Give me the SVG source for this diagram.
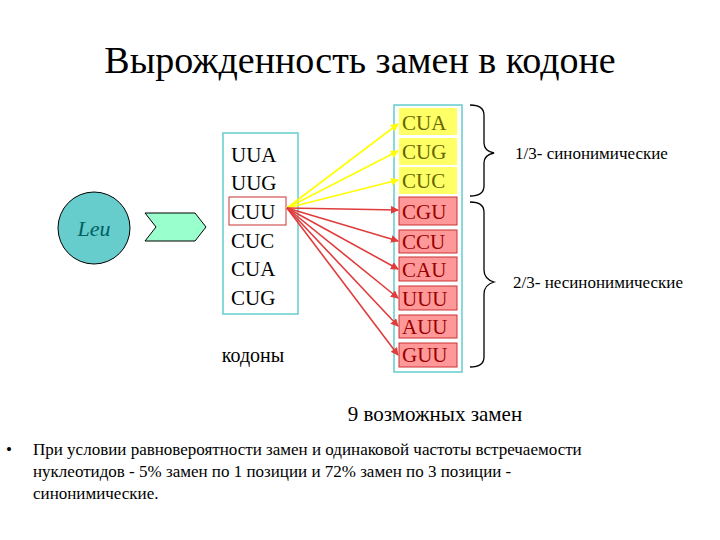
<svg xmlns="http://www.w3.org/2000/svg" width="720" height="540" viewBox="0 0 720 540" font-family="'Liberation Serif','Times New Roman','DejaVu Serif',serif">
<style>
text{font-family:'Liberation Serif','Times New Roman','DejaVu Serif',serif;fill:#000}
.cod{font-size:21px}
.y{fill:#ffff66}
.r{fill:#ff9999;stroke:#cc3333;stroke-width:1}
text.ty{fill:#666600}
text.tr{fill:#990000}
.ly{stroke:#ffff00;stroke-width:1.6;fill:none}
.lr{stroke:#e03c3c;stroke-width:1.6;fill:none}
.br{fill:none;stroke:#000;stroke-width:1.3}
</style>
<defs>
<marker id="ay" markerWidth="8" markerHeight="8" refX="7" refY="4" orient="auto" markerUnits="userSpaceOnUse"><path d="M0,0L8,4L0,8z" fill="#ffff00"/></marker>
<marker id="ar" markerWidth="8" markerHeight="8" refX="7" refY="4" orient="auto" markerUnits="userSpaceOnUse"><path d="M0,0L8,4L0,8z" fill="#e03c3c"/></marker>
</defs>
<rect width="720" height="540" fill="#fff"/>
<text x="360" y="73" font-size="38" text-anchor="middle">Вырожденность замен в кодоне</text>
<g id="leu"><circle cx="94" cy="228" r="36" fill="#66cccc" stroke="#000"/><text x="94" y="236" font-size="22" font-style="italic" text-anchor="middle" style="fill:#006060">Leu</text></g>
<g id="chevron"><path d="M145,213L195,213L206,227L195,241L145,241L156,227z" fill="#99ffcc" stroke="#000"/></g>
<g id="codons">
<rect x="223" y="133" width="75" height="181" fill="#fff" stroke="#66cccc" stroke-width="1.5"/>
<rect x="229" y="197" width="57" height="28" fill="none" stroke="#cc3333"/>
<text class="cod" x="231" y="162">UUA</text>
<text class="cod" x="231" y="190">UUG</text>
<text class="cod" x="231" y="219">CUU</text>
<text class="cod" x="231" y="248">CUC</text>
<text class="cod" x="231" y="276">CUA</text>
<text class="cod" x="231" y="305">CUG</text>
<text x="253" y="362" font-size="20" text-anchor="middle">кодоны</text>
</g>
<g id="subs">
<rect x="394" y="105" width="68" height="267" fill="#fff" stroke="#66cccc" stroke-width="1.5"/>
<rect class="y" x="399" y="108" width="58" height="27"/>
<rect class="y" x="399" y="138" width="58" height="27"/>
<rect class="y" x="399" y="167" width="58" height="27"/>
<rect class="r" x="399" y="197" width="58" height="28"/>
<rect class="r" x="399" y="230" width="58" height="23"/>
<rect class="r" x="399" y="257" width="58" height="24"/>
<rect class="r" x="399" y="286" width="58" height="24"/>
<rect class="r" x="399" y="315" width="58" height="23"/>
<rect class="r" x="399" y="343" width="58" height="24"/>
<text class="cod ty" x="402" y="130">CUA</text>
<text class="cod ty" x="402" y="159">CUG</text>
<text class="cod ty" x="402" y="188">CUC</text>
<text class="cod tr" x="402" y="219">CGU</text>
<text class="cod tr" x="402" y="249">CCU</text>
<text class="cod tr" x="402" y="277">CAU</text>
<text class="cod tr" x="402" y="306">UUU</text>
<text class="cod tr" x="402" y="334">AUU</text>
<text class="cod tr" x="402" y="362">GUU</text>
</g>
<g id="connectors">
<path class="ly" d="M287,208L398,124" marker-end="url(#ay)"/>
<path class="ly" d="M287,208L398,151" marker-end="url(#ay)"/>
<path class="ly" d="M287,208L398,180" marker-end="url(#ay)"/>
<path class="lr" d="M287,208L398,210" marker-end="url(#ar)"/>
<path class="lr" d="M287,208L398,241" marker-end="url(#ar)"/>
<path class="lr" d="M287,208L398,269" marker-end="url(#ar)"/>
<path class="lr" d="M287,208L398,298" marker-end="url(#ar)"/>
<path class="lr" d="M287,208L398,326" marker-end="url(#ar)"/>
<path class="lr" d="M287,208L398,355" marker-end="url(#ar)"/>
</g>
<g id="braces">
<path class="br" d="M470,105Q484,105 484,115L484,143Q484,151 494,153Q484,155 484,163L484,186Q484,196 470,196"/>
<path class="br" d="M470,202Q484,202 484,212L484,270Q484,279 494,282Q484,285 484,294L484,357Q484,367 470,367"/>
<text x="515" y="159" font-size="17">1/3- синонимические</text>
<text x="513" y="288" font-size="17">2/3- несинонимические</text>
</g>
<text x="435" y="421" font-size="21" text-anchor="middle">9 возможных замен</text>
<g id="note" font-size="17">
<text x="6" y="455">•</text>
<text x="33" y="455">При условии равновероятности замен и одинаковой частоты встречаемости</text>
<text x="33" y="477">нуклеотидов - 5% замен по 1 позиции и 72% замен по 3 позиции -</text>
<text x="33" y="499">синонимические.</text>
</g>
</svg>
